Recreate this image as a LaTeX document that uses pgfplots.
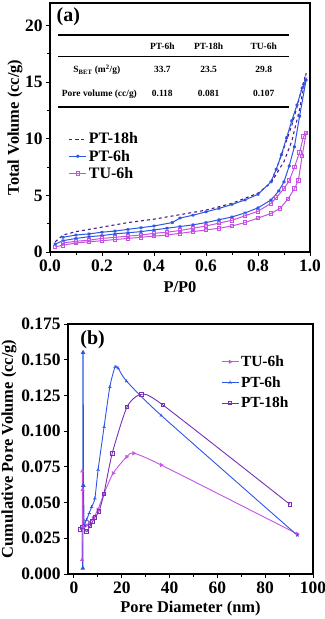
\documentclass[border=0pt]{standalone}
\usepackage{fontspec}
\setmainfont{Liberation Serif}
\usepackage{pgfplots}
\pgfplotsset{compat=1.18}
\usetikzlibrary{plotmarks}

\definecolor{cPTa}{HTML}{4A1A8C}
\definecolor{cBlue}{HTML}{2E56E6}
\definecolor{cTU}{HTML}{C452E2}
\definecolor{cPTb}{HTML}{7630B8}

\newcommand\lga{\bfseries\fontsize{16}{16}\selectfont}
\newcommand\lgb{\bfseries\fontsize{15.5}{15.5}\selectfont}
\newcommand\lbl{\bfseries\fontsize{16.5}{16.5}\selectfont}

\pgfplotsset{
  panel/.style={
    scale only axis,
    axis line style={line width=1.3pt},
    tick style={black, line width=1pt},
    tick align=outside,
    major tick length=4bp,
    minor tick length=3bp,
    xtick pos=lower, ytick pos=left,
    tick label style={font=\bfseries\fontsize{17.5}{17.5}\selectfont},
    every axis x label/.style={at={(rel axis cs:0.5,0)}, anchor=center, yshift=-35bp, font=\lbl},
    /pgf/number format/assume math mode=true,
    legend style={draw=none, fill=none},
    legend cell align=left,
  },
}

\begin{document}
\begin{tikzpicture}
\path[use as bounding box] (0,0) rectangle (325bp,-619bp);

% ---------- (a) isotherms
\begin{axis}[panel,
  at={(50bp,-3bp)}, anchor=north west,
  width=260bp, height=249bp,
  xmin=0, xmax=1, ymin=0, ymax=22,
  xtick={0,0.2,...,1.0}, minor x tick num=1,
  ytick={0,5,10,15,20}, minor y tick num=1,
  xticklabel style={/pgf/number format/.cd, fixed, fixed zerofill, precision=1},
  xlabel={P/P0}, ylabel={Total Volume (cc/g)},
  every axis y label/.style={at={(axis description cs:-0.135,0.5)}, rotate=90, anchor=center, font=\lbl},
  legend style={at={(0.06,0.495)}, anchor=north west, row sep=0.5pt},
]
\addplot[cPTa, dashed, line width=1.1pt] coordinates {
 (0.02,0.9) (0.05,1.5) (0.1,1.8) (0.2,2.2) (0.3,2.6) (0.4,2.9) (0.5,3.3) (0.6,3.7)
 (0.7,4.3) (0.8,5.2) (0.85,6.1) (0.9,8.0) (0.93,9.8) (0.96,12.6) (0.985,15.8)
 (0.97,14.6) (0.95,12.8) (0.93,11.2) (0.9,9.2) (0.87,7.3) (0.85,6.2)};
\addlegendentry{\lga PT-18h}
\addplot[cBlue, line width=1pt, mark=asterisk, mark size=1.6pt] coordinates {
 (0.02,0.7) (0.05,1.0) (0.1,1.2) (0.15,1.35) (0.2,1.45) (0.25,1.6) (0.3,1.7) (0.35,1.8)
 (0.4,1.95) (0.45,2.1) (0.5,2.25) (0.55,2.4) (0.6,2.6) (0.65,2.85) (0.7,3.1) (0.75,3.45)
 (0.8,3.9) (0.85,4.6) (0.88,5.4) (0.9,6.2) (0.92,7.6) (0.94,9.3) (0.96,12.0) (0.985,15.2)
 (0.97,14.5) (0.95,13.0) (0.93,11.6) (0.91,10.1) (0.89,8.6) (0.87,7.3) (0.85,6.2)
 (0.8,5.1) (0.75,4.6) (0.7,4.2) (0.65,3.85) (0.6,3.55) (0.55,3.25) (0.5,3.0) (0.47,2.6)
 (0.4,2.3) (0.35,2.15) (0.3,2.0) (0.25,1.85) (0.2,1.75) (0.15,1.6) (0.1,1.5) (0.05,1.3)};
\addlegendentry{\lga PT-6h}
\addplot[cTU, line width=1pt, mark=square, mark size=1.8pt] coordinates {
 (0.02,0.45) (0.05,0.6) (0.1,0.8) (0.15,0.9) (0.2,1.0) (0.25,1.1) (0.3,1.2) (0.35,1.3)
 (0.4,1.4) (0.45,1.5) (0.5,1.65) (0.55,1.8) (0.6,1.95) (0.65,2.1) (0.7,2.3) (0.75,2.6)
 (0.8,3.0) (0.85,3.4) (0.885,3.86) (0.916,4.7) (0.94,5.6) (0.955,6.3) (0.97,8.5) (0.985,10.5)
 (0.975,10.2) (0.96,8.8) (0.94,7.5) (0.92,6.3) (0.9,5.6) (0.87,4.8) (0.85,4.3) (0.8,3.6)
 (0.75,3.2) (0.7,2.8) (0.65,2.55) (0.6,2.3) (0.55,2.1) (0.5,1.9) (0.45,1.75) (0.4,1.65)
 (0.35,1.5) (0.3,1.4) (0.25,1.3) (0.2,1.2) (0.15,1.05) (0.1,0.95) (0.05,0.8)};
\addlegendentry{\lga TU-6h}
% table
\draw[line width=2pt] (axis cs:0.031,19.2) -- (axis cs:0.919,19.2);
\draw[line width=0.9pt] (axis cs:0.031,17.26) -- (axis cs:0.919,17.26);
\draw[line width=2pt] (axis cs:0.031,12.83) -- (axis cs:0.919,12.83);
\begin{scope}[every node/.style={font=\bfseries\fontsize{9.5}{9.5}\selectfont, inner sep=0pt}]
\node at (axis cs:0.432,18.14) {PT-6h};
\node at (axis cs:0.61,18.14) {PT-18h};
\node at (axis cs:0.822,18.14) {TU-6h};
\node at (axis cs:0.18,16.1) {S\textsubscript{BET} (m\textsuperscript{2}/g)};
\node at (axis cs:0.432,16.1) {33.7};
\node at (axis cs:0.61,16.1) {23.5};
\node at (axis cs:0.822,16.1) {29.8};
\node at (axis cs:0.19,13.98) {Pore volume (cc/g)};
\node at (axis cs:0.432,13.98) {0.118};
\node at (axis cs:0.61,13.98) {0.081};
\node at (axis cs:0.822,13.98) {0.107};
\end{scope}
\node[anchor=west, font=\bfseries\fontsize{20}{20}\selectfont, inner sep=0pt] at (rel axis cs:0.025,0.943) {(a)};
\end{axis}

% ---------- (b) pore distribution
\begin{axis}[panel,
  at={(68bp,-324bp)}, anchor=north west,
  width=245bp, height=250bp,
  xmin=-2.5, xmax=100, ymin=0, ymax=0.175,
  xtick={0,20,...,100}, minor x tick num=1,
  ytick={0,0.025,...,0.176},
  yticklabel style={/pgf/number format/.cd, fixed, fixed zerofill, precision=3},
  xlabel={Pore Diameter (nm)}, ylabel={Cumulative Pore Volume (cc/g)},
  every axis y label/.style={at={(axis description cs:-0.241,0.5)}, rotate=90, anchor=center, font=\lbl},
  legend style={at={(0.612,0.89)}, anchor=north west, row sep=4.5pt},
]
\addplot[cTU, line width=0.9pt, smooth, tension=0.4, mark=triangle, mark size=1.7pt,
  mark options={solid, rotate=-90}] coordinates {
 (3.9,0.033) (5,0.034) (6.5,0.036) (8,0.039) (10,0.045) (12.5,0.056) (16.4,0.0705)
 (22,0.082) (25,0.0845) (36.5,0.0763) (93.5,0.028)};
\addlegendentry{\lgb TU-6h}
\addplot[cBlue, line width=0.9pt, smooth, tension=0.4, mark=Mercedes star, mark size=1.8pt] coordinates {
 (4.2,0.034) (5.3,0.038) (6.4,0.0427) (7.4,0.047) (8.75,0.053) (10.1,0.073) (12.6,0.103)
 (15,0.131) (17.2,0.145) (18.5,0.144) (22,0.135) (36.5,0.111) (93.5,0.027)};
\addlegendentry{\lgb PT-6h}
\addplot[cPTb, line width=0.9pt, smooth, tension=0.4, mark=square, mark size=1.8pt] coordinates {
 (2.5,0.031) (3.5,0.033) (5.3,0.0296) (6.7,0.0336) (7.8,0.0366) (8.75,0.0397) (10.4,0.0436)
 (12.5,0.056) (16,0.0845) (22.2,0.117) (28.2,0.1258) (37.2,0.1183) (90.3,0.0488)};
\addlegendentry{\lgb PT-18h}
\addplot[cBlue, line width=1.2pt, mark=triangle, mark size=1.6pt, forget plot] coordinates {
 (3.7,0.004) (3.8,0.155) (3.9,0.062) (4.2,0.034)};
\addplot[cTU, line width=0.9pt, mark=triangle, mark size=1.6pt, forget plot] coordinates {
 (3.4,0.010) (3.5,0.072) (3.6,0.059) (3.9,0.033)};
\node[anchor=west, font=\bfseries\fontsize{20}{20}\selectfont, inner sep=0pt] at (rel axis cs:0.05,0.936) {(b)};
\end{axis}
\end{tikzpicture}
\end{document}
